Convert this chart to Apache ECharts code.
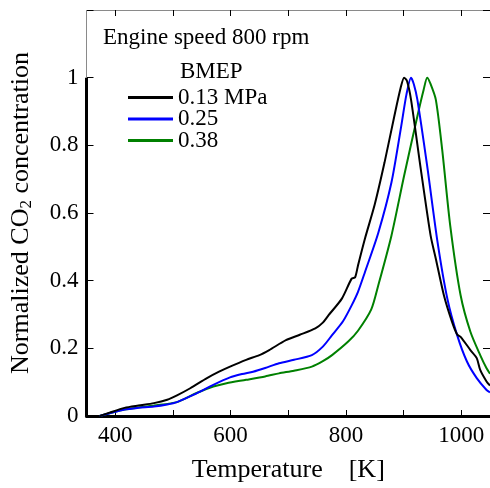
<!DOCTYPE html>
<html>
<head>
<meta charset="utf-8">
<script src="https://cdn.jsdelivr.net/npm/echarts@6/dist/echarts.min.js"></script>
<style>html,body{margin:0;padding:0;background:#fff}#c{width:490px;height:488px}</style>
</head>
<body>
<div id="c"></div>
<script>
// Data
const seriesNames = ['0.13 MPa', '0.25', '0.38'];
const black013 = [
  [373,0],[390,0.010],[416,0.024],[440,0.031],[467,0.038],[490,0.048],[507,0.061],[530,0.082],
  [559,0.112],[580,0.131],[599,0.146],[627,0.166],[650,0.180],[667,0.195],[696,0.224],[720,0.240],
  [747,0.259],[760,0.276],[770,0.298],[793,0.347],[810,0.406],[816,0.410],[821,0.445],[833,0.524],
  [850,0.625],[867,0.749],[884,0.886],[895,0.970],[901,1.0],[906,0.990],[913,0.935],[930,0.729],
  [947,0.533],[956,0.465],[970,0.357],[984,0.279],[993,0.241],[999,0.234],[1016,0.195],[1027,0.171],
  [1033,0.136],[1044,0.102],[1050,0.090]
];
const blue025 = [
  [373,0],[390,0.008],[416,0.019],[440,0.024],[467,0.028],[490,0.034],[507,0.041],[536,0.063],
  [570,0.092],[599,0.114],[620,0.124],[639,0.131],[660,0.142],[684,0.156],[710,0.166],[741,0.180],
  [760,0.205],[776,0.239],[795,0.280],[810,0.327],[821,0.367],[833,0.425],[856,0.540],[879,0.690],
  [896,0.857],[905,0.950],[913,1.0],[918,0.980],[924,0.935],[941,0.739],[959,0.514],[976,0.347],
  [993,0.239],[1010,0.161],[1027,0.112],[1044,0.077],[1050,0.070]
];
const green038 = [
  [373,0],[390,0.008],[416,0.019],[440,0.025],[467,0.031],[507,0.041],[541,0.068],[570,0.087],
  [593,0.097],[627,0.107],[660,0.117],[684,0.126],[710,0.134],[741,0.146],[760,0.162],[776,0.180],
  [804,0.220],[821,0.252],[844,0.315],[856,0.385],[879,0.533],[901,0.710],[924,0.886],
  [935,0.965],[941,1.0],[946,0.985],[956,0.935],[967,0.788],[981,0.563],[999,0.357],[1016,0.249],
  [1033,0.180],[1044,0.141],[1050,0.125]
];
const xTicks = [400,500,600,700,800,900,1000];
const xLabels = [400,600,800,1000];
const xRange = [350,1050];
const yRange = [0,1.2];

const FONT = 'Liberation Serif';
const chart = echarts.init(document.getElementById('c'), null, {renderer:'canvas'});
const gray = '#8a8a8a';
chart.setOption({
  animation:false,
  backgroundColor:'#fff',
  title:[
    {text:'Engine speed 800 rpm', left:103, top:26, padding:0, textStyle:{fontFamily:FONT, fontSize:23, fontWeight:'normal', color:'#000', lineHeight:23}},
    {text:'BMEP', left:180, top:60, padding:0, textStyle:{fontFamily:FONT, fontSize:23, fontWeight:'normal', color:'#000', lineHeight:23}}
  ],
  legend:{
    orient:'vertical', left:128, top:86, padding:0, itemGap:-1.5, itemWidth:45, itemHeight:3, icon:'rect',
    textStyle:{fontFamily:FONT, fontSize:23, color:'#000', lineHeight:21},
    data:seriesNames
  },
  grid:{left:85, top:10, width:407, height:408, containLabel:false},
  xAxis:[
    {type:'value', min:xRange[0], max:xRange[1], position:'bottom',
     axisLine:{show:true, onZero:false, lineStyle:{color:'#000', width:3}},
     axisTick:{show:true, inside:true, length:6, customValues:xTicks, lineStyle:{color:'#000', width:1}},
     axisLabel:{show:true, customValues:xLabels, fontFamily:FONT, fontSize:23, color:'#000', margin:8,
       formatter:function(v){ return String(v); }},
     splitLine:{show:false},
     name:'Temperature    [K]', nameLocation:'middle', nameGap:41,
     nameTextStyle:{fontFamily:FONT, fontSize:26, color:'#000'}},
    {type:'value', min:xRange[0], max:xRange[1], position:'top',
     axisLine:{show:true, onZero:false, lineStyle:{color:gray, width:1}},
     axisTick:{show:true, inside:true, length:6, customValues:xTicks, lineStyle:{color:'#000', width:1}},
     axisLabel:{show:false}, splitLine:{show:false}}
  ],
  yAxis:[
    {type:'value', min:yRange[0], max:yRange[1], interval:0.2, position:'left',
     axisLine:{show:false, onZero:false},
     axisTick:{show:true, inside:true, length:7, lineStyle:{color:'#000', width:1}},
     axisLabel:{fontFamily:FONT, fontSize:23, color:'#000', margin:8,
       formatter:function(v){ return v > 1.01 ? '' : String(+v.toFixed(1)); }},
     splitLine:{show:false},
     name:'Normalized CO{sub|2} concentration', nameLocation:'middle', nameGap:51, nameRotate:90,
     nameTextStyle:{fontFamily:FONT, fontSize:26, color:'#000',
       rich:{sub:{fontFamily:FONT, fontSize:17, color:'#000', verticalAlign:'bottom', padding:[12,0,0,0]}}}},
    {type:'value', min:yRange[0], max:yRange[1], interval:0.2, position:'right',
     axisLine:{show:true, onZero:false, lineStyle:{color:gray, width:1}},
     axisTick:{show:true, inside:true, length:7, lineStyle:{color:'#000', width:1}},
     axisLabel:{show:false}, splitLine:{show:false}}
  ],
  series:[
    {name:seriesNames[0], type:'line', data:black013, showSymbol:false, smooth:0.25, z:5,
     lineStyle:{color:'#000', width:2}, itemStyle:{color:'#000'},
     markLine:{silent:true, symbol:'none', label:{show:false}, animation:false,
       data:[
         [{coord:[xRange[0],0], lineStyle:{color:'#000', width:3, type:'solid'}},{coord:[xRange[0],1]}],
         [{coord:[xRange[0],1], lineStyle:{color:gray, width:1, type:'solid'}},{coord:[xRange[0],yRange[1]]}]
       ]}},
    {name:seriesNames[1], type:'line', data:blue025, showSymbol:false, smooth:0.25, z:4,
     lineStyle:{color:'#0000ff', width:2}, itemStyle:{color:'#0000ff'}},
    {name:seriesNames[2], type:'line', data:green038, showSymbol:false, smooth:0.25, z:3,
     lineStyle:{color:'#008000', width:2}, itemStyle:{color:'#008000'}}
  ]
});
</script>
</body>
</html>
